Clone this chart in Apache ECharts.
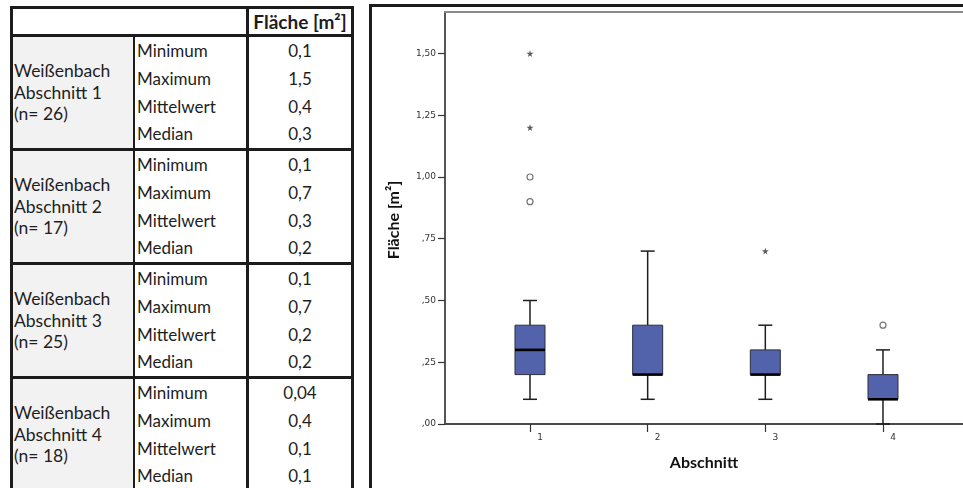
<!DOCTYPE html>
<html>
<head>
<meta charset="utf-8">
<script src="https://cdn.jsdelivr.net/npm/echarts@6/dist/echarts.min.js"></script>
<style>
  html, body { margin: 0; padding: 0; background: #fff; }
  #page { position: relative; width: 963px; height: 488px; overflow: hidden; background: #fff; }
  .ln { position: absolute; background: #1c1c1c; }
  .cell { position: absolute; font-family: Lato, "Open Sans", sans-serif; font-size: 17px; color: #1e1e1e; white-space: nowrap; }
  #frame { position: absolute; left: 369px; top: 4px; width: 620px; height: 520px;
           border-left: 3px solid #1c1c1c; border-top: 3px solid #1c1c1c; }
  #chart { position: absolute; left: 372px; top: 7px; width: 591px; height: 481px; }
</style>
</head>
<body>
<div id="page">
  <div id="table"></div>
  <div id="frame"></div>
  <div id="chart"></div>
</div>
<script>
// ---- table contents ----
const tableHeader = 'Fläche [m²]';
const sectionLabels = [
  ['Weißenbach', 'Abschnitt 1', '(n= 26)'],
  ['Weißenbach', 'Abschnitt 2', '(n= 17)'],
  ['Weißenbach', 'Abschnitt 3', '(n= 25)'],
  ['Weißenbach', 'Abschnitt 4', '(n= 18)']
];
const statLabels = ['Minimum', 'Maximum', 'Mittelwert', 'Median'];
const statValues = [
  ['0,1', '1,5', '0,4', '0,3'],
  ['0,1', '0,7', '0,3', '0,2'],
  ['0,1', '0,7', '0,2', '0,2'],
  ['0,04', '0,4', '0,1', '0,1']
];

// ---- box plot data (Abschnitt 1..4) ----
const categories   = [1, 2, 3, 4];
const whiskerLow   = [0.10, 0.10, 0.10, 0.00];
const quartile1    = [0.20, 0.20, 0.20, 0.10];
const medians      = [0.30, 0.20, 0.20, 0.10];
const quartile3    = [0.40, 0.40, 0.30, 0.20];
const whiskerHigh  = [0.50, 0.70, 0.40, 0.30];
const outliers     = [[1, 0.90], [1, 1.00], [4, 0.40]];
const extremes     = [[1, 1.20], [1, 1.50], [3, 0.70]];
const yTicks       = [0, 0.25, 0.5, 0.75, 1.0, 1.25, 1.5];

// ---- build the table ----
(function buildTable() {
  const host = document.getElementById('table');
  const add = (cls, css, text) => {
    const d = document.createElement('div');
    d.className = cls;
    Object.assign(d.style, css);
    if (text !== undefined) d.textContent = text;
    host.appendChild(d);
    return d;
  };
  const X0 = 10, X1 = 133, X2 = 246, X3 = 351;   // column borders
  const headTop = 6, headLine = 34;
  const groupH = 114;
  const groupTop = g => headLine + g * groupH;

  // grey first column
  for (let g = 0; g < sectionLabels.length; g++) {
    add('ln', { left: (X0 + 3) + 'px', top: (groupTop(g) + 3) + 'px', width: (X1 - X0 - 3) + 'px',
                height: (groupH - 3) + 'px', background: '#f2f2f2' });
  }
  // horizontal rules
  add('ln', { left: X0 + 'px', top: headTop + 'px', width: (X3 - X0 + 3) + 'px', height: '3px' });
  for (let g = 0; g < sectionLabels.length; g++) {
    add('ln', { left: X0 + 'px', top: groupTop(g) + 'px', width: (X3 - X0 + 3) + 'px', height: '3px' });
  }
  // vertical rules
  add('ln', { left: X0 + 'px', top: headTop + 'px', width: '3px', height: '500px' });
  add('ln', { left: X1 + 'px', top: headLine + 'px', width: '2px', height: '500px' });
  add('ln', { left: X2 + 'px', top: headTop + 'px', width: '3px', height: '500px' });
  add('ln', { left: X3 + 'px', top: headTop + 'px', width: '3px', height: '500px' });

  // header
  add('cell', { left: (X2 + 3) + 'px', width: (X3 - X2 - 3) + 'px', top: (headTop + 3) + 'px',
                height: (headLine - headTop - 3) + 'px', lineHeight: (headLine - headTop - 3) + 'px',
                textAlign: 'center', fontWeight: 'bold', fontSize: '19px' }, tableHeader);

  const rowH = (groupH - 3) / 4;
  sectionLabels.forEach((lines, g) => {
    const top = groupTop(g) + 3;
    const block = add('cell', { left: (X0 + 4) + 'px', top: top + 'px', width: (X1 - X0 - 6) + 'px',
                                height: (groupH - 3) + 'px', display: 'flex', flexDirection: 'column',
                                justifyContent: 'center', lineHeight: '21.5px', fontSize: '17.5px' });
    block.innerHTML = lines.map(s => '<div>' + s + '</div>').join('');
    statLabels.forEach((lab, r) => {
      add('cell', { left: (X1 + 4) + 'px', top: (top + r * rowH) + 'px', height: rowH + 'px',
                    lineHeight: rowH + 'px' }, lab);
      add('cell', { left: (X2 + 3) + 'px', width: (X3 - X2 - 3) + 'px', top: (top + r * rowH) + 'px',
                    height: rowH + 'px', lineHeight: rowH + 'px', textAlign: 'center' }, statValues[g][r]);
    });
  });
})();

// ---- chart ----
const chart = echarts.init(document.getElementById('chart'), null, { renderer: 'canvas' });

const fmtTick = v => {
  const s = v.toFixed(2).replace('.', ',');
  return s.startsWith('0,') ? s.slice(1) : s;
};

const boxData = categories.map((c, i) =>
  [c, whiskerLow[i], quartile1[i], medians[i], quartile3[i], whiskerHigh[i]]);

const starPath = 'path://M50,0 L61,35 L98,35 L68,57 L79,91 L50,70 L21,91 L32,57 L2,35 L39,35 Z';

function renderBox(params, api) {
  const x = api.value(0);
  const pLo = api.coord([x, api.value(1)]);
  const pQ1 = api.coord([x, api.value(2)]);
  const pMd = api.coord([x, api.value(3)]);
  const pQ3 = api.coord([x, api.value(4)]);
  const pHi = api.coord([x, api.value(5)]);
  const cx = pQ1[0];
  const boxW = 30, capW = 14;
  const stroke = { stroke: '#1e1e1e', lineWidth: 1.5 };
  return {
    type: 'group',
    children: [
      { type: 'line', shape: { x1: cx, y1: pQ3[1], x2: cx, y2: pHi[1] }, style: stroke },
      { type: 'line', shape: { x1: cx, y1: pQ1[1], x2: cx, y2: pLo[1] }, style: stroke },
      { type: 'line', shape: { x1: cx - capW / 2, y1: pHi[1], x2: cx + capW / 2, y2: pHi[1] }, style: stroke },
      { type: 'line', shape: { x1: cx - capW / 2, y1: pLo[1], x2: cx + capW / 2, y2: pLo[1] }, style: stroke },
      { type: 'rect', shape: { x: cx - boxW / 2, y: pQ3[1], width: boxW, height: pQ1[1] - pQ3[1] },
        style: { fill: '#5262ab', stroke: '#2e2e3a', lineWidth: 1 } },
      { type: 'line', shape: { x1: cx - boxW / 2, y1: pMd[1], x2: cx + boxW / 2, y2: pMd[1] },
        style: { stroke: '#000', lineWidth: 2.6 } }
    ]
  };
}

const xMin = 0.2776, xMax = 4.68;

chart.setOption({
  animation: false,
  backgroundColor: 'transparent',
  grid: { left: 73, top: 5, right: 0, bottom: 64, containLabel: false },
  xAxis: [
    {
      type: 'value', min: xMin, max: xMax, position: 'bottom',
      name: 'Abschnitt', nameLocation: 'middle', nameGap: 31,
      nameTextStyle: { fontFamily: 'Lato', fontWeight: 'bold', fontSize: 16, color: '#111' },
      axisLine: { show: true, onZero: false, lineStyle: { color: '#4a4a4a', width: 2 } },
      axisTick: { show: true, inside: false, length: 8, customValues: categories,
                  lineStyle: { color: '#333', width: 1.2 } },
      axisLabel: { customValues: categories, fontFamily: 'DejaVu Sans', fontSize: 9, color: '#333',
                   margin: 9, padding: [0, 0, 0, 20] },
      splitLine: { show: false }
    },
    {
      type: 'value', min: xMin, max: xMax, position: 'top',
      axisLine: { show: true, onZero: false, lineStyle: { color: '#8a8a8a', width: 2 } },
      axisTick: { show: false }, axisLabel: { show: false }, splitLine: { show: false }
    }
  ],
  yAxis: {
    type: 'value', min: 0, max: 1.668,
    axisLine: { show: true, onZero: false, lineStyle: { color: '#1e1e1e', width: 1.5 } },
    axisTick: { show: true, inside: false, length: 7, customValues: yTicks,
                lineStyle: { color: '#333', width: 1.2 } },
    axisLabel: { customValues: yTicks, formatter: fmtTick, fontFamily: 'DejaVu Sans', fontSize: 9,
                 color: '#333', margin: 9 },
    splitLine: { show: false }
  },
  graphic: [{
    type: 'text', x: 22, y: 213, rotation: Math.PI / 2,
    style: { text: 'Fläche [m²]', align: 'center', verticalAlign: 'middle',
             font: 'bold 16px Lato', fill: '#111' }
  }],
  series: [
    {
      type: 'custom', name: 'Boxplot', renderItem: renderBox, data: boxData,
      encode: { x: 0, y: [1, 2, 3, 4, 5] }, z: 2
    },
    {
      type: 'scatter', name: 'Ausreißer', data: outliers, symbol: 'circle', symbolSize: 6,
      itemStyle: { color: '#ffffff', borderColor: '#555', borderWidth: 1.2 }, z: 3
    },
    {
      type: 'scatter', name: 'Extremwerte', data: extremes, symbol: starPath, symbolSize: 7,
      itemStyle: { color: '#333' }, z: 3
    }
  ]
});
</script>
</body>
</html>
